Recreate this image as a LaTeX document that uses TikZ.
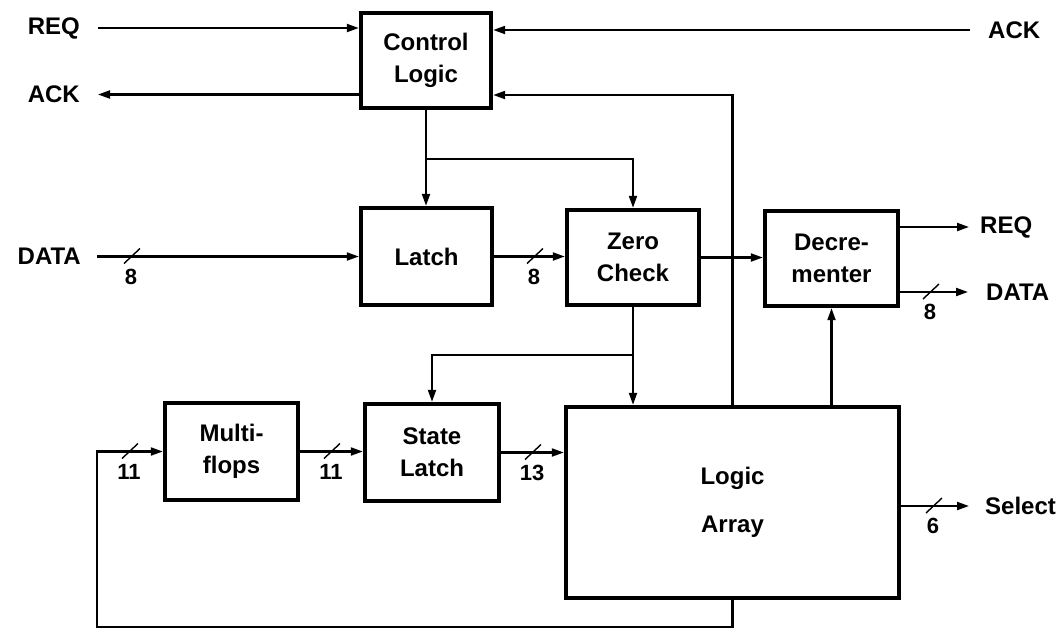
\documentclass[tikz,border=0pt]{standalone}
\usepackage{fontspec}
\setmainfont{Liberation Sans}
\usetikzlibrary{arrows.meta,calc}
\newcommand\diaglbl{\fontsize{24}{32}\selectfont\bfseries}
\newcommand\diagnum{\fontsize{22}{22}\selectfont\bfseries}
\begin{document}
\begin{tikzpicture}[x=1pt,y=-1pt,
  box/.style={draw, line width=4.4pt, align=center, font=\diaglbl, inner sep=0pt},
  io/.style={font=\diaglbl, inner sep=0pt},
  numlab/.style={font=\diagnum, inner sep=0pt},
  arr/.style={line width=2.1pt, -{Triangle[length=12pt,width=8pt]}},
  pics/busmark/.style={code={
    \draw[line width=1.4pt] (-8,7) -- (8,-8);
    \node[numlab] at (-1,20) {#1};
  }}]
\useasboundingbox (0,0) rectangle (1057,632);

% blocks
\node[box, minimum width=130pt, minimum height=95pt] (cl) at (426,60.5) {Control\\Logic};
\node[box, minimum width=131pt, minimum height=97pt] (latch) at (426.5,256.5) {Latch};
\node[box, minimum width=132pt, minimum height=95pt] (zc) at (633,257.5) {Zero\\Check};
\node[box, minimum width=133pt, minimum height=95pt] (dec) at (831.5,258.5) {Decre-\\menter};
\node[box, minimum width=133pt, minimum height=97pt] (mf) at (231.5,451.5) {Multi-\\flops};
\node[box, minimum width=134pt, minimum height=97pt] (sl) at (432,452.5) {State\\Latch};
\node[box, minimum width=333pt, minimum height=191pt] (la) at (732.5,502.5) {Logic\\[16pt]Array};

% external labels
\node[io, anchor=east] (reqL) at (80,28) {REQ};
\node[io, anchor=east] (ackL) at (80,94.5) {ACK};
\node[io, anchor=east] (dataL) at (81,256.5) {DATA};
\node[io, anchor=west] (ackR) at (988,30) {ACK};
\node[io, anchor=west] (reqR) at (980,227) {REQ};
\node[io, anchor=west] (dataR) at (986,292) {DATA};
\node[io, anchor=west] (selR) at (985,506) {Select};

% junctions and corners
\coordinate (j1) at (cl.south |- 0,159);
\coordinate (j2) at (zc.south |- 0,355);
\coordinate (fbtop) at (la.north |- 0,95);
\coordinate (fbcorner) at (97,627);

% connectors
\draw[arr] ([xshift=18pt]reqL.east) -- (reqL.east -| cl.west);
\draw[arr] (cl.west |- ackL.east) -- ([xshift=18pt]ackL.east);
\draw[arr] ([xshift=-18pt]ackR.west) -- (ackR.west -| cl.east);
\draw[arr] (la.north) -- (fbtop) -- (fbtop -| cl.east);
\draw[arr] (cl.south) -- (cl.south |- latch.north);
\draw[arr] (j1) -| (zc.north);
\draw[arr] ([xshift=16pt]dataL.east) -- (dataL.east -| latch.west);
\draw[arr] (latch.east) -- (latch.east -| zc.west);
\draw[arr] (zc.east) -- (zc.east -| dec.west);
\draw[arr] (dec.east |- reqR.west) -- ([xshift=-11pt]reqR.west);
\draw[arr] (dec.east |- dataR.west) -- ([xshift=-18pt]dataR.west);
\draw[arr] (zc.south) -- (zc.south |- la.north);
\draw[arr] (j2) -| (sl.north);
\draw[arr] (dec.south |- la.north) -- (dec.south);
\draw[arr] (mf.east) -- (mf.east -| sl.west);
\draw[arr] (sl.east) -- (sl.east -| la.west);
\draw[arr] (la.east |- selR.west) -- ([xshift=-16pt]selR.west);
\draw[arr] (la.south) |- (fbcorner) |- (mf.west);

% bus width marks
\pic at (132,256.5) {busmark=8};
\pic at (535,256.5) {busmark=8};
\pic at (931,292) {busmark=8};
\pic at (130,451.5) {busmark=11};
\pic at (332,451.5) {busmark=11};
\pic at (533,452.5) {busmark=13};
\pic at (934,506) {busmark=6};
\end{tikzpicture}
\end{document}
